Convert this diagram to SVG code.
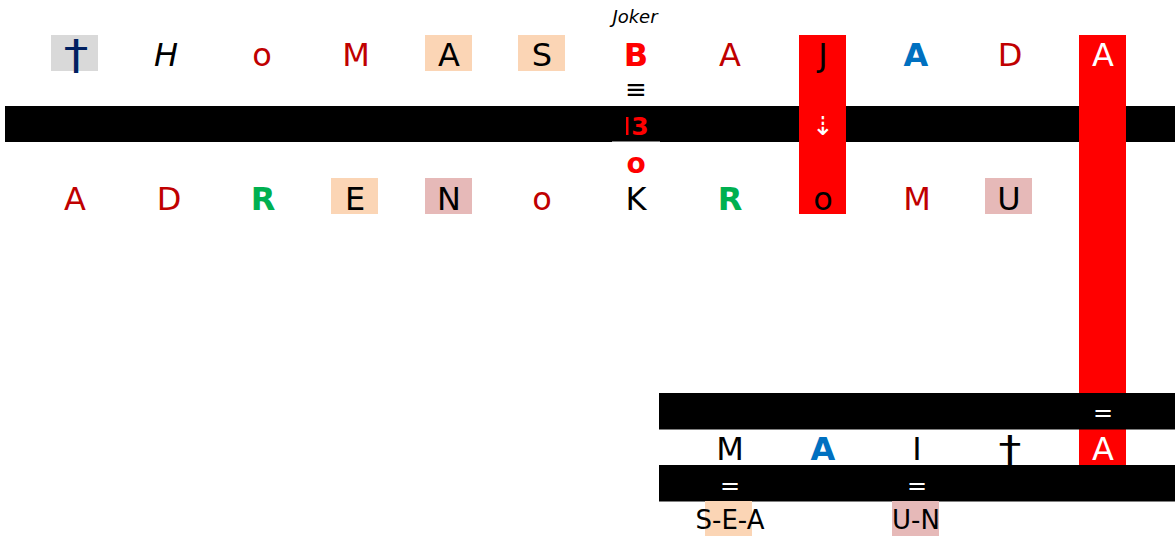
<svg xmlns="http://www.w3.org/2000/svg" width="1175" height="536" viewBox="0 0 1175 536">
<style>
text{font-family:"DejaVu Sans",Verdana,sans-serif;font-size:32px;text-anchor:middle}
.r{fill:#C00000}.R{fill:#FF0000;font-weight:bold}.g{fill:#00B050;font-weight:bold}.b{fill:#0070C0;font-weight:bold}
.k{fill:#000}.w{fill:#fff}.i{font-style:italic}
.bar{fill:#000}.red{fill:#FF0000}.peach{fill:#FBD5B5}.pink{fill:#E6B9B8}.gray{fill:#D9D9D9}
.dag{font-size:41px}
</style>
<g id="bars">
<rect class="bar" x="5" y="106" width="1170" height="36"/>
<rect x="612" y="141.5" width="48" height="1.5" fill="#fff"/>
<rect class="red" x="799" y="35" width="47" height="179"/>
<rect class="red" x="1079" y="35" width="47" height="430"/>
<rect class="bar" x="659" y="393" width="516" height="36.5"/>
<rect class="bar" x="659" y="465" width="516" height="36.5"/>
</g>
<g id="row1">
<rect class="gray" x="51" y="35" width="47" height="36"/>
<text transform="translate(76,69) scale(1.2,1)" fill="#002060" class="dag">†</text>
<text x="166" y="66" class="k i">H</text>
<text x="262" y="66" class="r">o</text>
<text x="356" y="66" class="r">M</text>
<rect class="peach" x="425" y="35" width="47" height="36"/>
<text x="449" y="66" class="k">A</text>
<rect class="peach" x="518" y="35" width="47" height="36"/>
<text x="542" y="66" class="k">S</text>
<text x="636" y="66" class="R">B</text>
<text x="730" y="66" class="r">A</text>
<text x="823" y="66" class="k">J</text>
<text x="916" y="66" class="b">A</text>
<text x="1010" y="66" class="r">D</text>
<text x="1103" y="66" class="w">A</text>
</g>
<g id="joker">
<text x="635" y="23" class="k i" style="font-size:18px">Joker</text>
<text x="636" y="98" class="k" style="font-size:26px">≡</text>
<rect x="626" y="117" width="2.5" height="18" fill="#FF0000"/>
<text x="640" y="135" class="R" style="font-size:25px">3</text>
<text x="636" y="173" class="R" style="font-size:28px">o</text>
</g>
<g id="jcol">
<text x="823" y="135" class="w" style="font-size:26px">⇣</text>
</g>
<g id="row2">
<text x="75" y="210" class="r">A</text>
<text x="169" y="210" class="r">D</text>
<text x="263" y="210" class="g">R</text>
<rect class="peach" x="331" y="178" width="47" height="36"/>
<text x="355" y="210" class="k">E</text>
<rect class="pink" x="425" y="178" width="47" height="36"/>
<text x="449" y="210" class="k">N</text>
<text x="542" y="210" class="r">o</text>
<text x="636" y="210" class="k">K</text>
<text x="730" y="210" class="g">R</text>
<text x="823" y="210" class="k">o</text>
<text x="917" y="210" class="r">M</text>
<rect class="pink" x="985" y="178" width="47" height="36"/>
<text x="1009" y="210" class="k">U</text>
</g>
<g id="row3">
<text x="1103" y="421" class="w" style="font-size:24px">=</text>
<text x="730" y="460" class="k">M</text>
<text x="823" y="460" class="b">A</text>
<text x="917" y="460" class="k">I</text>
<text transform="translate(1010,462) scale(1.2,1)" class="k" style="font-size:38px">†</text>
<text x="1103" y="460" class="w">A</text>
<text x="730" y="494" class="w" style="font-size:24px">=</text>
<text x="917" y="494" class="w" style="font-size:24px">=</text>
</g>
<g id="row4">
<rect class="peach" x="705" y="501" width="47" height="35"/>
<text x="730" y="529" class="k" style="font-size:26px">S-E-A</text>
<rect class="pink" x="892" y="501" width="47" height="35"/>
<text x="916" y="529" class="k" style="font-size:26px">U-N</text>
</g>
</svg>
